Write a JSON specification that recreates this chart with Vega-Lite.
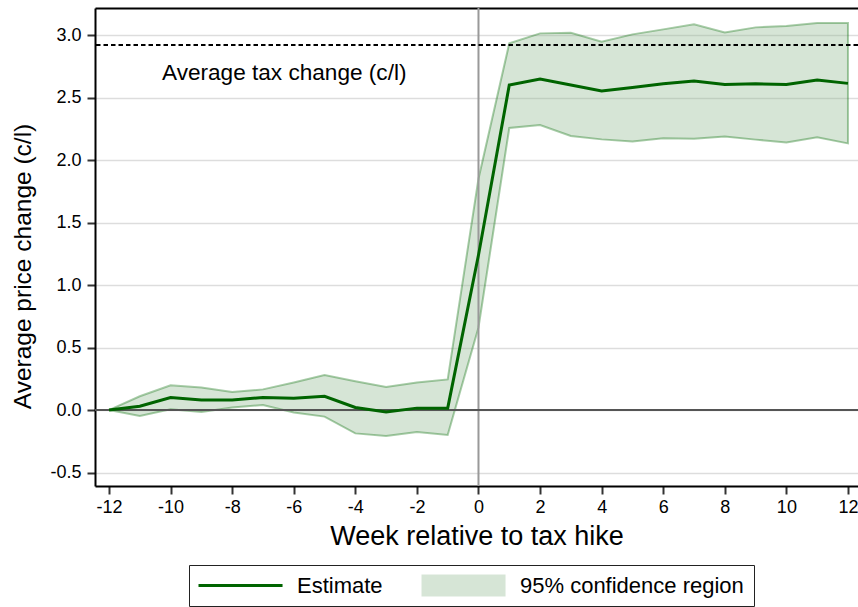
{
  "$schema": "https://vega.github.io/schema/vega-lite/v6.json",
  "width": 763,
  "height": 478,
  "autosize": {"type": "none"},
  "padding": {"left": 95, "top": 8, "right": 0, "bottom": 121},
  "config": {
    "font": "Liberation Sans",
    "view": {"stroke": null},
    "axis": {
      "labelFont": "Liberation Sans",
      "titleFont": "Liberation Sans",
      "labelColor": "#000000",
      "titleColor": "#000000",
      "titleFontWeight": "normal",
      "labelFontSize": 18,
      "domainColor": "#000000",
      "domainWidth": 2,
      "tickColor": "#333333",
      "tickWidth": 2,
      "tickSize": 8
    },
    "legend": {
      "labelFont": "Liberation Sans",
      "labelFontSize": 22,
      "labelColor": "#000000",
      "labelLimit": 400,
      "labelBaseline": "middle",
      "symbolSize": 484,
      "symbolOffset": 0,
      "padding": 9.5,
      "direction": "horizontal"
    }
  },
  "data": {
    "values": [
      {"week": -12, "est": 0.0, "lo": 0.0, "hi": 0.0},
      {"week": -11, "est": 0.03, "lo": -0.048, "hi": 0.11},
      {"week": -10, "est": 0.1, "lo": 0.005, "hi": 0.197},
      {"week": -9, "est": 0.08, "lo": -0.016, "hi": 0.18},
      {"week": -8, "est": 0.08, "lo": 0.02, "hi": 0.144},
      {"week": -7, "est": 0.1, "lo": 0.04, "hi": 0.165},
      {"week": -6, "est": 0.095, "lo": -0.02, "hi": 0.22},
      {"week": -5, "est": 0.11, "lo": -0.053, "hi": 0.28},
      {"week": -4, "est": 0.02, "lo": -0.187, "hi": 0.23},
      {"week": -3, "est": -0.015, "lo": -0.208, "hi": 0.184},
      {"week": -2, "est": 0.015, "lo": -0.176, "hi": 0.22},
      {"week": -1, "est": 0.015, "lo": -0.2, "hi": 0.245},
      {"week": 0, "est": 1.24, "lo": 0.66, "hi": 1.85},
      {"week": 1, "est": 2.6, "lo": 2.256, "hi": 2.933},
      {"week": 2, "est": 2.648, "lo": 2.28, "hi": 3.013},
      {"week": 3, "est": 2.6, "lo": 2.192, "hi": 3.018},
      {"week": 4, "est": 2.552, "lo": 2.165, "hi": 2.947},
      {"week": 5, "est": 2.58, "lo": 2.149, "hi": 3.005},
      {"week": 6, "est": 2.61, "lo": 2.173, "hi": 3.045},
      {"week": 7, "est": 2.632, "lo": 2.171, "hi": 3.085},
      {"week": 8, "est": 2.605, "lo": 2.187, "hi": 3.021},
      {"week": 9, "est": 2.61, "lo": 2.163, "hi": 3.061},
      {"week": 10, "est": 2.605, "lo": 2.141, "hi": 3.072},
      {"week": 11, "est": 2.64, "lo": 2.181, "hi": 3.096},
      {"week": 12, "est": 2.613, "lo": 2.133, "hi": 3.096}
    ]
  },
  "layer": [
    {
      "mark": {
        "type": "area",
        "fillOpacity": 0.35,
        "stroke": "#066d06",
        "strokeOpacity": 0.35,
        "strokeWidth": 2
      },
      "encoding": {
        "x": {
          "field": "week",
          "type": "quantitative",
          "scale": {"domain": [-12.455, 12.326], "nice": false, "zero": false},
          "axis": {
            "values": [-12, -10, -8, -6, -4, -2, 0, 2, 4, 6, 8, 10, 12],
            "labelExpr": "datum.value < 0 ? '-' + format(-datum.value, 'd') : format(datum.value, 'd')",
            "labelPadding": 4,
            "grid": false,
            "title": "Week relative to tax hike",
            "titleFontSize": 27,
            "titlePadding": 7
          }
        },
        "y": {
          "field": "lo",
          "type": "quantitative",
          "scale": {"domain": [-0.608, 3.216], "nice": false, "zero": false},
          "axis": {
            "values": [-0.5, 0, 0.5, 1, 1.5, 2, 2.5, 3],
            "labelExpr": "datum.value < 0 ? '-' + format(-datum.value, '.1f') : format(datum.value, '.1f')",
            "labelPadding": 6,
            "grid": true,
            "gridColor": "#dddddd",
            "gridWidth": 1.5,
            "title": "Average price change (c/l)",
            "titleFontSize": 24.5,
            "titlePadding": 14,
            "titleY": 258
          }
        },
        "y2": {"field": "hi"},
        "fill": {
          "datum": "95% confidence region",
          "scale": {"domain": ["Estimate", "95% confidence region"], "range": ["transparent", "#8ab58a"]},
          "legend": {
            "title": null,
            "orient": "none",
            "legendX": 94,
            "legendY": 557,
            "columns": 2,
            "columnPadding": 38,
            "labelOffset": 76.5,
            "symbolType": "M-1,-1H6.64V1H-1Z",
            "symbolStrokeWidth": 0,
            "symbolOpacity": 0.35,
            "strokeColor": "#222222"
          }
        }
      }
    },
    {
      "data": {"values": [{"hike_week": 0}]},
      "mark": {"type": "rule", "color": "#999999", "strokeWidth": 2},
      "encoding": {
        "x": {
          "field": "hike_week",
          "type": "quantitative",
          "axis": {
            "orient": "top",
            "labels": false,
            "ticks": false,
            "grid": false,
            "title": null,
            "domainColor": "#000000",
            "domainWidth": 2
          }
        }
      }
    },
    {
      "data": {"values": [{"zero": 0}]},
      "mark": {"type": "rule", "color": "#555555", "strokeWidth": 2},
      "encoding": {
        "y": {"field": "zero", "type": "quantitative"}
      }
    },
    {
      "data": {"values": [{"tax_change": 2.92}]},
      "mark": {"type": "rule", "color": "#000000", "strokeWidth": 2, "strokeDash": [4.5, 3]},
      "encoding": {
        "y": {"field": "tax_change", "type": "quantitative"}
      }
    },
    {
      "data": {"values": [{"week": -10.28, "value": 2.64, "label": "Average tax change (c/l)"}]},
      "mark": {"type": "text", "align": "left", "baseline": "alphabetic", "fontSize": 22.6, "color": "#000000"},
      "encoding": {
        "x": {"field": "week", "type": "quantitative", "axis": null},
        "y": {"field": "value", "type": "quantitative"},
        "text": {"field": "label"}
      }
    },
    {
      "mark": {"type": "line", "strokeWidth": 3},
      "encoding": {
        "x": {"field": "week", "type": "quantitative", "axis": null},
        "y": {"field": "est", "type": "quantitative"},
        "stroke": {
          "datum": "Estimate",
          "scale": {"domain": ["Estimate"], "range": ["#006400"]},
          "legend": {
            "title": null,
            "orient": "none",
            "legendX": 92.5,
            "legendY": 555.5,
            "labelExpr": "''",
            "symbolType": "M-1,0H6.64",
            "symbolStrokeWidth": 3,
            "symbolFillColor": "transparent"
          }
        }
      }
    }
  ],
  "resolve": {"axis": {"x": "independent"}}
}
